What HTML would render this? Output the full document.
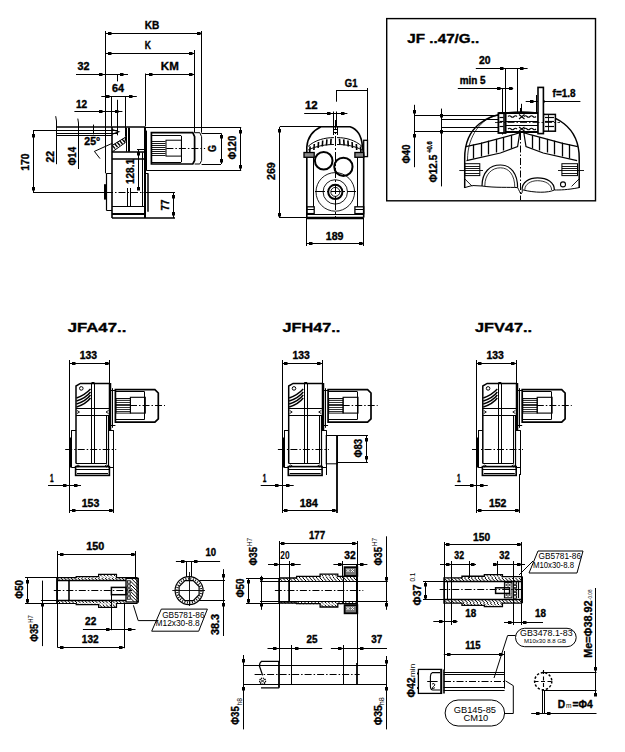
<!DOCTYPE html>
<html><head><meta charset="utf-8"><style>
html,body{margin:0;padding:0;background:#fff;}
svg{display:block;}
text{font-family:"Liberation Sans",sans-serif;fill:#000;stroke:#000;stroke-width:0.35px;}
</style></head><body>
<svg width="625" height="752" viewBox="0 0 625 752">
<rect x="0" y="0" width="625" height="752" fill="#fff"/>
<g stroke="#000" stroke-width="1" fill="none">
<line x1="105.5" y1="31" x2="105.5" y2="173.3"/>
<line x1="201.5" y1="31" x2="201.5" y2="132.7"/>
<line x1="194.5" y1="50" x2="194.5" y2="132.7"/>
<line x1="145.5" y1="73.5" x2="145.5" y2="126.5"/>
<line x1="105.6" y1="33.5" x2="201.5" y2="33.5"/>
<rect x="108" y="32" width="3.5" height="3" fill="#000" stroke="none"/>
<rect x="197" y="32" width="3.5" height="3" fill="#000" stroke="none"/>
<text x="144.8" y="29.2" font-size="11.5" font-weight="bold" textLength="14.6" lengthAdjust="spacingAndGlyphs">KB</text>
<line x1="105.6" y1="53.5" x2="194.8" y2="53.5"/>
<rect x="108" y="52" width="3.5" height="3" fill="#000" stroke="none"/>
<rect x="189" y="52" width="3.5" height="3" fill="#000" stroke="none"/>
<text x="144.8" y="49" font-size="11.5" font-weight="bold" textLength="6.2" lengthAdjust="spacingAndGlyphs">K</text>
<line x1="145.5" y1="74.5" x2="194.8" y2="74.5"/>
<rect x="149" y="73" width="3.5" height="3" fill="#000" stroke="none"/>
<rect x="189" y="73" width="3.5" height="3" fill="#000" stroke="none"/>
<text x="160.8" y="69.8" font-size="11.5" font-weight="bold" textLength="17.95" lengthAdjust="spacingAndGlyphs">KM</text>
<line x1="76" y1="74.5" x2="128" y2="74.5"/>
<rect x="99" y="73" width="3.5" height="3" fill="#000" stroke="none"/>
<rect x="120" y="73" width="3.5" height="3" fill="#000" stroke="none"/>
<line x1="117.5" y1="74.5" x2="117.5" y2="81.4"/>
<text x="77.6" y="69.7" font-size="10" font-weight="bold" textLength="12.0" lengthAdjust="spacingAndGlyphs">32</text>
<line x1="101.3" y1="96.5" x2="136.8" y2="96.5"/>
<rect x="106" y="95" width="3.5" height="3" fill="#000" stroke="none"/>
<rect x="129" y="95" width="3.5" height="3" fill="#000" stroke="none"/>
<text x="112" y="91.5" font-size="10" font-weight="bold" textLength="12" lengthAdjust="spacingAndGlyphs">64</text>
<line x1="111.5" y1="96.6" x2="111.5" y2="126.5"/>
<line x1="125.5" y1="96.6" x2="125.5" y2="136.7"/>
<line x1="117.5" y1="99.8" x2="117.5" y2="135.3"/>
<line x1="74.4" y1="111.5" x2="122.4" y2="111.5"/>
<rect x="99" y="110" width="3.5" height="3" fill="#000" stroke="none"/>
<rect x="115" y="110" width="3.5" height="3" fill="#000" stroke="none"/>
<text x="76" y="107.8" font-size="10" font-weight="bold" textLength="11.2" lengthAdjust="spacingAndGlyphs">12</text>
<line x1="57" y1="127" x2="145" y2="127" stroke-width="1.5"/>
<line x1="145" y1="127.5" x2="241.2" y2="127.5"/>
<line x1="33" y1="130.5" x2="118" y2="130.5"/>
<line x1="57" y1="133.5" x2="118" y2="133.5"/>
<line x1="57" y1="135.5" x2="112" y2="135.5"/>
<path d="M112,129.5 L118.7,131.7 L112,134.3" fill="none" stroke-width="1.2"/>
<line x1="56.5" y1="121" x2="56.5" y2="164.2"/>
<line x1="56.5" y1="121" x2="55.7" y2="116.2"/>
<line x1="78.5" y1="123" x2="78.5" y2="169"/>
<line x1="78.5" y1="123" x2="77.8" y2="118.6"/>
<line x1="93.5" y1="124.6" x2="93.5" y2="134.3"/>
<line x1="33.5" y1="130.5" x2="33.5" y2="192.5"/>
<rect x="32" y="134" width="3" height="3.5" fill="#000" stroke="none"/>
<rect x="32" y="187" width="3" height="3.5" fill="#000" stroke="none"/>
<line x1="33" y1="192.5" x2="106" y2="192.5"/>
<text transform="translate(29,170.8) rotate(-90)" x="0" y="0" font-size="10" font-weight="bold" textLength="17.2" lengthAdjust="spacingAndGlyphs">170</text>
<text transform="translate(53.75,162.5) rotate(-90)" x="0" y="0" font-size="10.5" font-weight="bold" textLength="11.5" lengthAdjust="spacingAndGlyphs">22</text>
<text transform="translate(76,165.6) rotate(-90)" x="0" y="0" font-size="10.5" font-weight="bold" textLength="18.7" lengthAdjust="spacingAndGlyphs">Φ14</text>
<line x1="94.4" y1="151.4" x2="112.5" y2="143.2"/>
<line x1="94.4" y1="151.4" x2="100" y2="158.6"/>
<text x="84.3" y="144.9" font-size="10" font-weight="bold" textLength="15.9" lengthAdjust="spacingAndGlyphs">25°</text>
<line x1="112" y1="127" x2="112" y2="218" stroke-width="1.6"/>
<line x1="126.5" y1="127.7" x2="126.5" y2="151.8"/>
<line x1="128.5" y1="127.7" x2="128.5" y2="151.8"/>
<line x1="129.5" y1="127.7" x2="129.5" y2="151.8"/>
<line x1="112" y1="152" x2="145" y2="152" stroke-width="1.6"/>
<line x1="112" y1="159" x2="145" y2="159" stroke-width="1.6"/>
<line x1="145" y1="127" x2="145" y2="218" stroke-width="2"/>
<line x1="146.5" y1="130.6" x2="146.5" y2="170.2"/>
<path d="M112,145.5 L125.5,137.2 M112,152 L125.5,142.5" fill="none"/>
<path d="M125.5,136.7 Q125.8,140 124.5,142.5" fill="none" stroke-width="1.2"/>
<line x1="112.27" y1="145.36" x2="115.07" y2="148.66" stroke-width="1.4"/>
<line x1="114.73" y1="143.8" x2="117.53" y2="147.1" stroke-width="1.4"/>
<line x1="117.18" y1="142.23" x2="119.98" y2="145.53" stroke-width="1.4"/>
<line x1="119.64" y1="140.67" x2="122.44" y2="143.97" stroke-width="1.4"/>
<line x1="122.09" y1="139.11" x2="124.89" y2="142.41" stroke-width="1.4"/>
<line x1="106.5" y1="173.3" x2="106.5" y2="210.4" stroke-width="1.2"/>
<line x1="105.5" y1="184.2" x2="105.5" y2="199.6" stroke-width="3"/>
<line x1="106.4" y1="173.5" x2="112" y2="173.5"/>
<line x1="145" y1="173.5" x2="148" y2="173.5"/>
<line x1="148" y1="173.3" x2="148" y2="211.7" stroke-width="1.5"/>
<line x1="112" y1="206.5" x2="145" y2="206.5"/>
<line x1="112" y1="214" x2="145" y2="214" stroke-width="2"/>
<line x1="112" y1="218" x2="175" y2="218" stroke-width="1.6"/>
<line x1="106.4" y1="210.5" x2="112" y2="210.5"/>
<line x1="137" y1="149.5" x2="145" y2="149.5"/>
<line x1="138.5" y1="149.1" x2="138.5" y2="189.3"/>
<rect x="137" y="152" width="3" height="3.5" fill="#000" stroke="none"/>
<rect x="137" y="187" width="3" height="3.5" fill="#000" stroke="none"/>
<line x1="142.5" y1="152.4" x2="142.5" y2="206.6"/>
<text transform="translate(133.9,184.1) rotate(-90)" x="0" y="0" font-size="10.5" font-weight="bold" textLength="25.2" lengthAdjust="spacingAndGlyphs">128.1</text>
<line x1="106" y1="192.5" x2="148" y2="192.5" stroke-dasharray="7 2 1.5 2"/>
<line x1="148" y1="192.5" x2="175" y2="192.5"/>
<line x1="127.5" y1="188" x2="127.5" y2="206"/>
<line x1="130.5" y1="188" x2="130.5" y2="206"/>
<line x1="173.5" y1="192.5" x2="173.5" y2="218"/>
<rect x="172" y="195" width="3" height="3.5" fill="#000" stroke="none"/>
<rect x="172" y="212" width="3" height="3.5" fill="#000" stroke="none"/>
<text transform="translate(169.1,210.4) rotate(-90)" x="0" y="0" font-size="10.5" font-weight="bold" textLength="10.8" lengthAdjust="spacingAndGlyphs">77</text>
<line x1="146.2" y1="170.5" x2="241.2" y2="170.5"/>
<line x1="240.5" y1="127" x2="240.5" y2="170.2"/>
<rect x="239" y="130" width="3" height="3.5" fill="#000" stroke="none"/>
<rect x="239" y="165" width="3" height="3.5" fill="#000" stroke="none"/>
<text transform="translate(236.4,159.6) rotate(-90)" x="0" y="0" font-size="10.5" font-weight="bold" textLength="23.8" lengthAdjust="spacingAndGlyphs">Φ120</text>
<path d="M151.4,132.7 L192.8,132.7 L194.6,136.7 L194.6,160.5 L192.8,164 L151.4,164 Z" fill="none" stroke-width="1.7"/>
<path d="M194.6,132.7 L199.8,132.7 L201.6,136.7 L201.6,160.5 L199.8,164 L194.6,164" fill="none"/>
<line x1="151.4" y1="135.5" x2="181" y2="135.5"/>
<line x1="151.4" y1="162.5" x2="181" y2="162.5"/>
<line x1="181.5" y1="135.8" x2="181.5" y2="162.2"/>
<line x1="151.4" y1="141.5" x2="165.5" y2="141.5" stroke-width="0.9"/>
<line x1="151.4" y1="143.5" x2="165.5" y2="143.5" stroke-width="0.9"/>
<line x1="151.4" y1="145.5" x2="165.5" y2="145.5" stroke-width="0.9"/>
<line x1="151.4" y1="147.5" x2="165.5" y2="147.5" stroke-width="0.9"/>
<line x1="151.4" y1="149.5" x2="165.5" y2="149.5" stroke-width="0.9"/>
<line x1="151.4" y1="151.5" x2="165.5" y2="151.5" stroke-width="0.9"/>
<line x1="151.4" y1="153.5" x2="165.5" y2="153.5" stroke-width="0.9"/>
<line x1="151.4" y1="155.5" x2="165.5" y2="155.5" stroke-width="0.9"/>
<rect x="166" y="140.2" width="15.4" height="15.9" fill="none"/>
<line x1="166.4" y1="148.5" x2="205.1" y2="148.5" stroke-dasharray="7 2 1.5 2"/>
<line x1="201.6" y1="133.5" x2="221" y2="133.5"/>
<line x1="201.6" y1="164.5" x2="221" y2="164.5"/>
<line x1="221.5" y1="133.2" x2="221.5" y2="164"/>
<rect x="220" y="135" width="3" height="3.5" fill="#000" stroke="none"/>
<rect x="220" y="159" width="3" height="3.5" fill="#000" stroke="none"/>
<text transform="translate(216,152) rotate(-90)" x="0" y="0" font-size="10.5" font-weight="bold" textLength="7" lengthAdjust="spacingAndGlyphs">G</text>
<line x1="336" y1="90.5" x2="367.5" y2="90.5"/>
<line x1="336.5" y1="90.8" x2="336.5" y2="101.7"/>
<line x1="367.5" y1="88" x2="367.5" y2="140.3"/>
<text x="344.8" y="86.5" font-size="10" font-weight="bold" textLength="12.6" lengthAdjust="spacingAndGlyphs">G1</text>
<line x1="304.2" y1="113.5" x2="347.4" y2="113.5"/>
<rect x="327" y="112" width="3.5" height="3" fill="#000" stroke="none"/>
<rect x="341" y="112" width="3.5" height="3" fill="#000" stroke="none"/>
<line x1="333.5" y1="111.5" x2="333.5" y2="127"/>
<line x1="336.5" y1="111.5" x2="336.5" y2="127"/>
<text x="305" y="108.8" font-size="10" font-weight="bold" textLength="12.7" lengthAdjust="spacingAndGlyphs">12</text>
<line x1="279.5" y1="127" x2="279.5" y2="218"/>
<rect x="278" y="129" width="3" height="3.5" fill="#000" stroke="none"/>
<rect x="278" y="213" width="3" height="3.5" fill="#000" stroke="none"/>
<line x1="279.8" y1="126.5" x2="333" y2="126.5"/>
<line x1="279.8" y1="217.5" x2="306.8" y2="217.5"/>
<text transform="translate(275.3,180) rotate(-90)" x="0" y="0" font-size="10.5" font-weight="bold" textLength="17.7" lengthAdjust="spacingAndGlyphs">269</text>
<line x1="307" y1="243.5" x2="363.7" y2="243.5"/>
<rect x="309" y="242" width="3.5" height="3" fill="#000" stroke="none"/>
<rect x="359" y="242" width="3.5" height="3" fill="#000" stroke="none"/>
<line x1="306.5" y1="217.6" x2="306.5" y2="246"/>
<line x1="363.5" y1="217.6" x2="363.5" y2="246"/>
<text x="325.8" y="240" font-size="10" font-weight="bold" textLength="17.7" lengthAdjust="spacingAndGlyphs">189</text>
<path d="M306.8,217.6 L306.8,147 C307.5,138 312,131 321,126.8 L350,126.8 C357,129 361.5,136 362.4,146 L363.7,156 L363.7,217.6" fill="none" stroke-width="1.6"/>
<rect x="363.7" y="140.3" width="3.8" height="16.3" fill="none" stroke-width="1.3"/>
<line x1="306.8" y1="218" x2="363.7" y2="218" stroke-width="2.5"/>
<line x1="306.8" y1="214.5" x2="363.7" y2="214.5"/>
<path d="M308.1,146.4 C315,140 325,137.6 333.9,137.6 M337,137.6 C346,137.6 355,140 362,146.4" fill="none"/>
<path d="M308.1,150 C316,146 326,144.5 333.9,144.5 M337,144.5 C346,144.5 355,146 362,150" fill="none"/>
<line x1="331.1" y1="138.72" x2="330.70000000000005" y2="144.72" stroke-width="1.6"/>
<line x1="339.5" y1="138.72" x2="339.9" y2="144.72" stroke-width="1.6"/>
<line x1="326.90000000000003" y1="139.38" x2="326.50000000000006" y2="145.38" stroke-width="1.6"/>
<line x1="343.7" y1="139.38" x2="344.09999999999997" y2="145.38" stroke-width="1.6"/>
<line x1="322.7" y1="140.48" x2="322.3" y2="146.48" stroke-width="1.6"/>
<line x1="347.90000000000003" y1="140.48" x2="348.3" y2="146.48" stroke-width="1.6"/>
<line x1="318.5" y1="142.02" x2="318.1" y2="148.02" stroke-width="1.6"/>
<line x1="352.1" y1="142.02" x2="352.5" y2="148.02" stroke-width="1.6"/>
<line x1="314.3" y1="144.0" x2="313.90000000000003" y2="150.0" stroke-width="1.6"/>
<line x1="356.3" y1="144.0" x2="356.7" y2="150.0" stroke-width="1.6"/>
<line x1="310.1" y1="146.42" x2="309.70000000000005" y2="152.42" stroke-width="1.6"/>
<line x1="360.5" y1="146.42" x2="360.9" y2="152.42" stroke-width="1.6"/>
<rect x="304" y="152.5" width="10.2" height="4.8" fill="#888" stroke-width="1.3"/>
<rect x="354.9" y="152.5" width="8.8" height="4.8" fill="#888" stroke-width="1.3"/>
<rect x="306.8" y="206.8" width="7.4" height="6.8" fill="none" stroke-width="1.3"/>
<rect x="354.9" y="206.8" width="8.8" height="6.8" fill="none" stroke-width="1.3"/>
<line x1="307" y1="209.5" x2="314" y2="209.5"/>
<line x1="355" y1="209.5" x2="363.5" y2="209.5"/>
<circle cx="323.7" cy="160.7" r="8.8" fill="none" stroke-width="2.0"/>
<circle cx="343.4" cy="166.8" r="9.15" fill="none" stroke-width="2.0"/>
<circle cx="335.3" cy="191.9" r="19.3" fill="none" stroke-width="0.9"/>
<circle cx="335.3" cy="191.9" r="12.2" fill="none" stroke-width="0.9"/>
<circle cx="335.3" cy="191.9" r="7.1" fill="none" stroke-width="2.0"/>
<circle cx="335.3" cy="191.9" r="4.5" fill="none" stroke-width="0.9"/>
<line x1="335.5" y1="120" x2="335.5" y2="217.6" stroke-dasharray="10 2 2 2"/>
<line x1="315" y1="191.5" x2="356" y2="191.5" stroke-dasharray="10 2 2 2"/>
<line x1="313.5" y1="157.3" x2="313.5" y2="206.8"/>
<line x1="357.5" y1="157.3" x2="357.5" y2="206.8"/>
<line x1="333.5" y1="127" x2="333.5" y2="135"/>
<line x1="337.5" y1="127" x2="337.5" y2="135"/>
<line x1="333.4" y1="129.5" x2="337" y2="129.5"/>
<line x1="333.4" y1="132.5" x2="337" y2="132.5"/>
<rect x="386.7" y="18.6" width="208.8" height="182.2" fill="none" stroke-width="1.4"/>
<text x="407.2" y="43" font-size="12.5" font-weight="bold" textLength="72.0" lengthAdjust="spacingAndGlyphs">JF ..47/G..</text>
<line x1="475.8" y1="68.5" x2="527.6" y2="68.5"/>
<rect x="500" y="67" width="3.5" height="3" fill="#000" stroke="none"/>
<rect x="520" y="67" width="3.5" height="3" fill="#000" stroke="none"/>
<line x1="505.5" y1="68" x2="505.5" y2="114"/>
<line x1="517.5" y1="68" x2="517.5" y2="114"/>
<text x="478.9" y="63.8" font-size="10" font-weight="bold" textLength="11.5" lengthAdjust="spacingAndGlyphs">20</text>
<line x1="457.8" y1="88.5" x2="513.2" y2="88.5"/>
<rect x="497" y="87" width="3.5" height="3" fill="#000" stroke="none"/>
<rect x="509" y="87" width="3.5" height="3" fill="#000" stroke="none"/>
<line x1="502.5" y1="88" x2="502.5" y2="134.5"/>
<text x="459.7" y="83.9" font-size="10" font-weight="bold" textLength="25.9" lengthAdjust="spacingAndGlyphs">min 5</text>
<line x1="525.7" y1="101.5" x2="580.4" y2="101.5"/>
<rect x="530" y="100" width="3.5" height="3" fill="#000" stroke="none"/>
<rect x="541" y="100" width="3.5" height="3" fill="#000" stroke="none"/>
<line x1="536.5" y1="95" x2="536.5" y2="113.4"/>
<text x="552.6" y="96.7" font-size="10" font-weight="bold" textLength="23.0" lengthAdjust="spacingAndGlyphs">f=1.8</text>
<line x1="414.5" y1="104.8" x2="414.5" y2="167.2"/>
<rect x="413" y="110" width="3" height="3.5" fill="#000" stroke="none"/>
<rect x="413" y="134" width="3" height="3.5" fill="#000" stroke="none"/>
<line x1="441.5" y1="108.6" x2="441.5" y2="186.4"/>
<rect x="440" y="114" width="3" height="3.5" fill="#000" stroke="none"/>
<rect x="440" y="130" width="3" height="3.5" fill="#000" stroke="none"/>
<line x1="414.6" y1="115.5" x2="500" y2="115.5"/>
<line x1="441.4" y1="119.5" x2="500" y2="119.5"/>
<line x1="441.4" y1="127.5" x2="500" y2="127.5"/>
<line x1="414.6" y1="131.5" x2="500" y2="131.5"/>
<text transform="translate(410.3,163.4) rotate(-90)" x="0" y="0" font-size="10.5" font-weight="bold" textLength="18.9" lengthAdjust="spacingAndGlyphs">Φ40</text>
<text transform="translate(437.2,182.6) rotate(-90)" x="0" y="0" font-size="10.5" font-weight="bold" textLength="27.9" lengthAdjust="spacingAndGlyphs">Φ12.5</text>
<text transform="translate(431.8,152.8) rotate(-90)" x="0" y="0" font-size="7" font-weight="bold" textLength="11.5" lengthAdjust="spacingAndGlyphs">+0.6</text>
<path d="M464.7,188 L464.7,158 C464.7,128 485,112 521.9,112 C558,112 579.2,128 579.2,158 L579.2,188" fill="none" stroke-width="1.5"/>
<path d="M467.5,160 C467.5,135 482,118 497,115.5" fill="none" stroke-width="0.8"/>
<path d="M464.7,187.6 L472.3,185.5 L482,186 M517.6,187.6 C519,190 520,193 521,194 C523,192 522,190 522.5,189.8 M554.4,190 C560,190 567,190 579.2,187.6" fill="none"/>
<path d="M482,186 C495,188 510,187 517.6,187.6 M522.5,189.8 C535,193 548,193 554.4,190" fill="none"/>
<path d="M464.7,178.8 L472.3,186.4" fill="none" stroke-width="0.9"/>
<path d="M579.2,178.8 L571.6,186.4" fill="none" stroke-width="0.9"/>
<path d="M465.8,146.6 L480.9,143.4 L513.3,134.7 L519.8,132.6 M466.5,160.6 L500.4,153 L517.6,146.6 L519.8,132.6" fill="none" stroke-width="1.2"/>
<path d="M577.8,146.6 L562.7,143.4 L530.3,134.7 L523.8,132.6 M577.1,160.6 L543.2,153 L526,146.6 L523.8,132.6" fill="none" stroke-width="1.2"/>
<line x1="473.5" y1="144.4" x2="473.5" y2="158.5" stroke-width="1.3"/>
<line x1="569.5" y1="144.4" x2="569.5" y2="158.5" stroke-width="1.3"/>
<line x1="481.5" y1="142.6" x2="481.5" y2="156.5" stroke-width="1.3"/>
<line x1="562.5" y1="142.6" x2="562.5" y2="156.5" stroke-width="1.3"/>
<line x1="488.5" y1="140.7" x2="488.5" y2="154.5" stroke-width="1.3"/>
<line x1="554.5" y1="140.7" x2="554.5" y2="154.5" stroke-width="1.3"/>
<line x1="496.5" y1="138.9" x2="496.5" y2="152.5" stroke-width="1.3"/>
<line x1="547.5" y1="138.9" x2="547.5" y2="152.5" stroke-width="1.3"/>
<line x1="503.5" y1="137.1" x2="503.5" y2="150.5" stroke-width="1.3"/>
<line x1="539.5" y1="137.1" x2="539.5" y2="150.5" stroke-width="1.3"/>
<line x1="511.5" y1="135.2" x2="511.5" y2="148.5" stroke-width="1.3"/>
<line x1="532.5" y1="135.2" x2="532.5" y2="148.5" stroke-width="1.3"/>
<path d="M482,186 C482,172 490,165 500.4,165 C511,165 517.6,174 517.6,187.6" fill="none" stroke-width="1.2"/>
<path d="M484.8,186 C484.8,174 492,167.8 500.4,167.8 C509,167.8 514.8,175 514.8,187.6" fill="none" stroke-width="0.8"/>
<path d="M522,189.8 C522,182 529,177.9 537.5,177.9 C547,177.9 554.4,182 554.4,190" fill="none" stroke-width="1.2"/>
<path d="M524.8,189.8 C524.8,184 531,180.7 537.5,180.7 C545,180.7 551.6,184 551.6,190" fill="none" stroke-width="0.8"/>
<rect x="464.7" y="163.7" width="15.1" height="11.9" fill="none"/>
<line x1="464.7" y1="166.5" x2="479.8" y2="166.5" stroke-width="0.9"/>
<line x1="464.7" y1="168.5" x2="479.8" y2="168.5" stroke-width="0.9"/>
<line x1="464.7" y1="173.5" x2="479.8" y2="173.5" stroke-width="0.9"/>
<rect x="561.9" y="163.7" width="15.6" height="11.9" fill="none"/>
<line x1="561.9" y1="166.5" x2="577.5" y2="166.5" stroke-width="0.9"/>
<line x1="561.9" y1="168.5" x2="577.5" y2="168.5" stroke-width="0.9"/>
<line x1="561.9" y1="173.5" x2="577.5" y2="173.5" stroke-width="0.9"/>
<line x1="459.3" y1="170.5" x2="483" y2="170.5" stroke-width="0.9"/>
<line x1="558" y1="170.5" x2="584" y2="170.5" stroke-width="0.9"/>
<circle cx="563" cy="184.4" r="2.5" fill="none" stroke-width="1.1"/>
<line x1="520.5" y1="108" x2="520.5" y2="200" stroke-dasharray="7 2 1.5 2"/>
<rect x="505.6" y="113.2" width="32.4" height="18.6" fill="#fff"/>
<line x1="498.4" y1="113" x2="538" y2="113" stroke-width="2"/>
<line x1="498.4" y1="132" x2="538" y2="132" stroke-width="2"/>
<rect x="498.4" y="113.2" width="7.2" height="19.8" fill="#fff" stroke-width="1.8"/>
<line x1="504" y1="113.2" x2="504" y2="133" stroke-width="1.5"/>
<line x1="499.5" y1="117.5" x2="503.5" y2="117.5" stroke-width="1.2"/>
<line x1="499.5" y1="121.5" x2="503.5" y2="121.5" stroke-width="1.2"/>
<line x1="499.5" y1="126.5" x2="503.5" y2="126.5" stroke-width="1.2"/>
<line x1="505.6" y1="121.5" x2="538" y2="121.5"/>
<line x1="505.6" y1="125.5" x2="538" y2="125.5"/>
<path d="M508,116.5 q1.5,-1.5 3,0 t3,0 t3,0 M524,116.5 q1.5,-1.5 3,0 t3,0 t3,0 t3,0 M508,129 q1.5,-1.5 3,0 t3,0 t3,0 M524,129 q1.5,-1.5 3,0 t3,0 t3,0 t3,0" stroke-width="1.1"/>
<path d="M519,114.5 L524.5,119 M519,119 L524.5,114.5 M519,127 L524.5,131 M519,131 L524.5,127" fill="none" stroke-width="1.1"/>
<rect x="543.4" y="114.4" width="12.0" height="16.8" fill="#fff" stroke-width="1.5"/>
<line x1="545" y1="117.5" x2="554" y2="117.5" stroke-width="1.2"/>
<line x1="545" y1="121.5" x2="554" y2="121.5" stroke-width="1.2"/>
<line x1="545" y1="126.5" x2="554" y2="126.5" stroke-width="1.2"/>
<line x1="548.5" y1="114.4" x2="548.5" y2="131.2" stroke-width="0.9"/>
<rect x="538" y="87.4" width="5.4" height="46.2" fill="#fff" stroke-width="1.6"/>
<line x1="495" y1="122.5" x2="560" y2="122.5" stroke-width="0.8" stroke-dasharray="7 2 1.5 2"/>
<line x1="521.5" y1="103.8" x2="521.5" y2="112"/>
<line x1="69.5" y1="363.5" x2="109.5" y2="363.5"/>
<rect x="72" y="362" width="3.5" height="3" fill="#000" stroke="none"/>
<rect x="105" y="362" width="3.5" height="3" fill="#000" stroke="none"/>
<line x1="69.5" y1="360" x2="69.5" y2="513"/>
<line x1="109.5" y1="360" x2="109.5" y2="383.4"/>
<path d="M76,463.5 L76,386 L80.4,383.4 L110,383.4" fill="none" stroke-width="1.5"/>
<line x1="110" y1="383" x2="110" y2="430" stroke-width="2.5"/>
<line x1="112.5" y1="388.2" x2="112.5" y2="427.8"/>
<line x1="110" y1="390.5" x2="115.4" y2="390.5"/>
<line x1="110" y1="425.5" x2="115.4" y2="425.5"/>
<circle cx="81.3" cy="388.4" r="1.8" fill="none"/>
<path d="M76.5,398 Q85,395 90.5,389 M76.5,401 Q86,398 90.5,392 M76.5,404 Q86,401 90.5,395 M76.5,407 Q86,404 90.5,398" fill="none" stroke-width="1.4"/>
<line x1="91.5" y1="383.4" x2="91.5" y2="463.5"/>
<line x1="94.5" y1="383.4" x2="94.5" y2="463.5"/>
<line x1="91.5" y1="383" x2="94.5" y2="383" stroke-width="2"/>
<line x1="76" y1="408.5" x2="110" y2="408.5"/>
<line x1="76" y1="415.5" x2="110" y2="415.5"/>
<path d="M77,410.5 l2.5,1.5 l-2.5,1.5 M108.5,410.5 l-2.5,1.5 l2.5,1.5" fill="none" stroke-width="0.9"/>
<line x1="71.5" y1="430.2" x2="71.5" y2="467.6"/>
<line x1="71.4" y1="430.5" x2="76" y2="430.5"/>
<line x1="70" y1="437.5" x2="70" y2="467.6" stroke-width="2"/>
<line x1="106.5" y1="415" x2="106.5" y2="463.5"/>
<line x1="108.5" y1="415" x2="108.5" y2="467.6" stroke-width="1.2"/>
<line x1="113.5" y1="430.2" x2="113.5" y2="475"/>
<line x1="108.9" y1="430.5" x2="113.6" y2="430.5"/>
<line x1="76" y1="463.5" x2="106.8" y2="463.5"/>
<rect x="75.6" y="466.6" width="33.8" height="8.8" fill="none" stroke-width="1.6"/>
<line x1="75.6" y1="469.5" x2="109.4" y2="469.5"/>
<line x1="77" y1="473.5" x2="108" y2="473.5"/>
<line x1="71.4" y1="467.5" x2="75.6" y2="467.5"/>
<line x1="109.4" y1="467.5" x2="113.6" y2="467.5"/>
<path d="M76.5,466 q1.5,-2 3,0 q-1.5,2 -3,0 M105,466 q1.5,-2 3,0 q-1.5,2 -3,0" fill="none" stroke-width="0.9"/>
<line x1="65.2" y1="449.5" x2="116.2" y2="449.5" stroke-dasharray="7 2 1.5 2"/>
<path d="M115.4,389.6 L154.9,389.6 L158.3,393 L158.3,418.9 L154.9,422.2 L115.4,422.2 Z" fill="none" stroke-width="1.7"/>
<line x1="115.4" y1="391.5" x2="144.4" y2="391.5"/>
<line x1="115.4" y1="419.5" x2="144.4" y2="419.5"/>
<line x1="144.5" y1="391.5" x2="144.5" y2="419.6"/>
<rect x="116" y="398.7" width="14.4" height="14.4" fill="none" stroke-width="0.9"/>
<line x1="116" y1="398.5" x2="130.4" y2="398.5" stroke-width="0.8"/>
<line x1="116" y1="400.5" x2="130.4" y2="400.5" stroke-width="0.8"/>
<line x1="116" y1="402.5" x2="130.4" y2="402.5" stroke-width="0.8"/>
<line x1="116" y1="404.5" x2="130.4" y2="404.5" stroke-width="0.8"/>
<line x1="116" y1="405.5" x2="130.4" y2="405.5" stroke-width="0.8"/>
<line x1="116" y1="407.5" x2="130.4" y2="407.5" stroke-width="0.8"/>
<line x1="116" y1="409.5" x2="130.4" y2="409.5" stroke-width="0.8"/>
<line x1="116" y1="411.5" x2="130.4" y2="411.5" stroke-width="0.8"/>
<rect x="130.4" y="397.3" width="14.9" height="15.8" fill="none" stroke-width="1.1"/>
<line x1="130" y1="405.5" x2="165" y2="405.5" stroke-dasharray="7 2 1.5 2"/>
<line x1="48" y1="485.5" x2="81" y2="485.5"/>
<rect x="63" y="484" width="3.5" height="3" fill="#000" stroke="none"/>
<rect x="74" y="484" width="3.5" height="3" fill="#000" stroke="none"/>
<text x="50.1" y="481.7" font-size="10" font-weight="bold" textLength="3.6" lengthAdjust="spacingAndGlyphs">1</text>
<text x="79.7" y="358.9" font-size="10" font-weight="bold" textLength="17.3" lengthAdjust="spacingAndGlyphs">133</text>
<text x="67.7" y="332.3" font-size="13.5" font-weight="bold" textLength="58.6" lengthAdjust="spacingAndGlyphs">JFA47..</text>
<line x1="69.5" y1="510.5" x2="113.6" y2="510.5"/>
<rect x="72" y="509" width="3.5" height="3" fill="#000" stroke="none"/>
<rect x="109" y="509" width="3.5" height="3" fill="#000" stroke="none"/>
<line x1="113.5" y1="474" x2="113.5" y2="513"/>
<text x="81.7" y="506.9" font-size="10" font-weight="bold" textLength="17.6" lengthAdjust="spacingAndGlyphs">153</text>
<line x1="282.2" y1="363.5" x2="322.2" y2="363.5"/>
<rect x="284" y="362" width="3.5" height="3" fill="#000" stroke="none"/>
<rect x="317" y="362" width="3.5" height="3" fill="#000" stroke="none"/>
<line x1="282.5" y1="360" x2="282.5" y2="513"/>
<line x1="322.5" y1="360" x2="322.5" y2="383.4"/>
<path d="M288.7,463.5 L288.7,386 L293.1,383.4 L322.7,383.4" fill="none" stroke-width="1.5"/>
<line x1="323" y1="383" x2="323" y2="430" stroke-width="2.5"/>
<line x1="325.5" y1="388.2" x2="325.5" y2="427.8"/>
<line x1="322.7" y1="390.5" x2="328.1" y2="390.5"/>
<line x1="322.7" y1="425.5" x2="328.1" y2="425.5"/>
<circle cx="294.0" cy="388.4" r="1.8" fill="none"/>
<path d="M289.2,398 Q297.7,395 303.2,389 M289.2,401 Q298.7,398 303.2,392 M289.2,404 Q298.7,401 303.2,395 M289.2,407 Q298.7,404 303.2,398" fill="none" stroke-width="1.4"/>
<line x1="304.5" y1="383.4" x2="304.5" y2="463.5"/>
<line x1="307.5" y1="383.4" x2="307.5" y2="463.5"/>
<line x1="304.2" y1="383" x2="307.2" y2="383" stroke-width="2"/>
<line x1="288.7" y1="408.5" x2="322.7" y2="408.5"/>
<line x1="288.7" y1="415.5" x2="322.7" y2="415.5"/>
<path d="M289.7,410.5 l2.5,1.5 l-2.5,1.5 M321.2,410.5 l-2.5,1.5 l2.5,1.5" fill="none" stroke-width="0.9"/>
<line x1="284.5" y1="430.2" x2="284.5" y2="467.6"/>
<line x1="284.1" y1="430.5" x2="288.7" y2="430.5"/>
<line x1="283" y1="437.5" x2="283" y2="467.6" stroke-width="2"/>
<line x1="319.5" y1="415" x2="319.5" y2="463.5"/>
<line x1="321.5" y1="415" x2="321.5" y2="467.6" stroke-width="1.2"/>
<line x1="326.5" y1="430.2" x2="326.5" y2="475"/>
<line x1="321.6" y1="430.5" x2="326.29999999999995" y2="430.5"/>
<line x1="288.7" y1="463.5" x2="319.5" y2="463.5"/>
<rect x="288.29999999999995" y="466.6" width="33.8" height="8.8" fill="none" stroke-width="1.6"/>
<line x1="288.29999999999995" y1="469.5" x2="322.1" y2="469.5"/>
<line x1="289.7" y1="473.5" x2="320.7" y2="473.5"/>
<line x1="284.1" y1="467.5" x2="288.29999999999995" y2="467.5"/>
<line x1="322.1" y1="467.5" x2="326.29999999999995" y2="467.5"/>
<path d="M289.2,466 q1.5,-2 3,0 q-1.5,2 -3,0 M317.7,466 q1.5,-2 3,0 q-1.5,2 -3,0" fill="none" stroke-width="0.9"/>
<line x1="277.9" y1="449.5" x2="328.9" y2="449.5" stroke-dasharray="7 2 1.5 2"/>
<path d="M328.1,389.6 L367.6,389.6 L371.0,393 L371.0,418.9 L367.6,422.2 L328.1,422.2 Z" fill="none" stroke-width="1.7"/>
<line x1="328.1" y1="391.5" x2="357.1" y2="391.5"/>
<line x1="328.1" y1="419.5" x2="357.1" y2="419.5"/>
<line x1="357.5" y1="391.5" x2="357.5" y2="419.6"/>
<rect x="328.7" y="398.7" width="14.4" height="14.4" fill="none" stroke-width="0.9"/>
<line x1="328.7" y1="398.5" x2="343.1" y2="398.5" stroke-width="0.8"/>
<line x1="328.7" y1="400.5" x2="343.1" y2="400.5" stroke-width="0.8"/>
<line x1="328.7" y1="402.5" x2="343.1" y2="402.5" stroke-width="0.8"/>
<line x1="328.7" y1="404.5" x2="343.1" y2="404.5" stroke-width="0.8"/>
<line x1="328.7" y1="405.5" x2="343.1" y2="405.5" stroke-width="0.8"/>
<line x1="328.7" y1="407.5" x2="343.1" y2="407.5" stroke-width="0.8"/>
<line x1="328.7" y1="409.5" x2="343.1" y2="409.5" stroke-width="0.8"/>
<line x1="328.7" y1="411.5" x2="343.1" y2="411.5" stroke-width="0.8"/>
<rect x="343.1" y="397.3" width="14.9" height="15.8" fill="none" stroke-width="1.1"/>
<line x1="342.7" y1="405.5" x2="377.7" y2="405.5" stroke-dasharray="7 2 1.5 2"/>
<line x1="260.7" y1="485.5" x2="293.7" y2="485.5"/>
<rect x="275" y="484" width="3.5" height="3" fill="#000" stroke="none"/>
<rect x="286" y="484" width="3.5" height="3" fill="#000" stroke="none"/>
<text x="262.8" y="481.7" font-size="10" font-weight="bold" textLength="3.6" lengthAdjust="spacingAndGlyphs">1</text>
<text x="292.4" y="358.9" font-size="10" font-weight="bold" textLength="17.3" lengthAdjust="spacingAndGlyphs">133</text>
<text x="282.5" y="332.3" font-size="13.5" font-weight="bold" textLength="57.8" lengthAdjust="spacingAndGlyphs">JFH47..</text>
<rect x="326.2" y="435.5" width="11.2" height="28.3" fill="none"/>
<line x1="337" y1="435.5" x2="337" y2="513" stroke-width="1.8"/>
<line x1="337.4" y1="435.5" x2="368" y2="435.5"/>
<line x1="337.4" y1="462.5" x2="368" y2="462.5"/>
<line x1="366.5" y1="435.5" x2="366.5" y2="462.2"/>
<rect x="365" y="438" width="3" height="3.5" fill="#000" stroke="none"/>
<rect x="365" y="456" width="3" height="3.5" fill="#000" stroke="none"/>
<text transform="translate(362.2,457.4) rotate(-90)" x="0" y="0" font-size="10" font-weight="bold" textLength="18.4" lengthAdjust="spacingAndGlyphs">Φ83</text>
<line x1="282.2" y1="510.5" x2="337.4" y2="510.5"/>
<rect x="284" y="509" width="3.5" height="3" fill="#000" stroke="none"/>
<rect x="332" y="509" width="3.5" height="3" fill="#000" stroke="none"/>
<text x="299.8" y="506.9" font-size="10" font-weight="bold" textLength="18.1" lengthAdjust="spacingAndGlyphs">184</text>
<line x1="476.3" y1="363.5" x2="516.3" y2="363.5"/>
<rect x="478" y="362" width="3.5" height="3" fill="#000" stroke="none"/>
<rect x="511" y="362" width="3.5" height="3" fill="#000" stroke="none"/>
<line x1="476.5" y1="360" x2="476.5" y2="513"/>
<line x1="516.5" y1="360" x2="516.5" y2="383.4"/>
<path d="M482.8,463.5 L482.8,386 L487.20000000000005,383.4 L516.8,383.4" fill="none" stroke-width="1.5"/>
<line x1="517" y1="383" x2="517" y2="430" stroke-width="2.5"/>
<line x1="519.5" y1="388.2" x2="519.5" y2="427.8"/>
<line x1="516.8" y1="390.5" x2="522.2" y2="390.5"/>
<line x1="516.8" y1="425.5" x2="522.2" y2="425.5"/>
<circle cx="488.1" cy="388.4" r="1.8" fill="none"/>
<path d="M483.3,398 Q491.8,395 497.3,389 M483.3,401 Q492.8,398 497.3,392 M483.3,404 Q492.8,401 497.3,395 M483.3,407 Q492.8,404 497.3,398" fill="none" stroke-width="1.4"/>
<line x1="498.5" y1="383.4" x2="498.5" y2="463.5"/>
<line x1="501.5" y1="383.4" x2="501.5" y2="463.5"/>
<line x1="498.3" y1="383" x2="501.3" y2="383" stroke-width="2"/>
<line x1="482.8" y1="408.5" x2="516.8" y2="408.5"/>
<line x1="482.8" y1="415.5" x2="516.8" y2="415.5"/>
<path d="M483.8,410.5 l2.5,1.5 l-2.5,1.5 M515.3,410.5 l-2.5,1.5 l2.5,1.5" fill="none" stroke-width="0.9"/>
<line x1="478.5" y1="430.2" x2="478.5" y2="467.6"/>
<line x1="478.20000000000005" y1="430.5" x2="482.8" y2="430.5"/>
<line x1="477" y1="437.5" x2="477" y2="467.6" stroke-width="2"/>
<line x1="513.5" y1="415" x2="513.5" y2="463.5"/>
<line x1="515.5" y1="415" x2="515.5" y2="467.6" stroke-width="1.2"/>
<line x1="520.5" y1="430.2" x2="520.5" y2="475"/>
<line x1="515.7" y1="430.5" x2="520.4" y2="430.5"/>
<line x1="482.8" y1="463.5" x2="513.6" y2="463.5"/>
<rect x="482.4" y="466.6" width="33.8" height="8.8" fill="none" stroke-width="1.6"/>
<line x1="482.4" y1="469.5" x2="516.2" y2="469.5"/>
<line x1="483.8" y1="473.5" x2="514.8" y2="473.5"/>
<line x1="478.20000000000005" y1="467.5" x2="482.4" y2="467.5"/>
<line x1="516.2" y1="467.5" x2="520.4" y2="467.5"/>
<path d="M483.3,466 q1.5,-2 3,0 q-1.5,2 -3,0 M511.8,466 q1.5,-2 3,0 q-1.5,2 -3,0" fill="none" stroke-width="0.9"/>
<line x1="472.0" y1="449.5" x2="523.0" y2="449.5" stroke-dasharray="7 2 1.5 2"/>
<path d="M522.2,389.6 L561.7,389.6 L565.1,393 L565.1,418.9 L561.7,422.2 L522.2,422.2 Z" fill="none" stroke-width="1.7"/>
<line x1="522.2" y1="391.5" x2="551.2" y2="391.5"/>
<line x1="522.2" y1="419.5" x2="551.2" y2="419.5"/>
<line x1="551.5" y1="391.5" x2="551.5" y2="419.6"/>
<rect x="522.8" y="398.7" width="14.4" height="14.4" fill="none" stroke-width="0.9"/>
<line x1="522.8" y1="398.5" x2="537.2" y2="398.5" stroke-width="0.8"/>
<line x1="522.8" y1="400.5" x2="537.2" y2="400.5" stroke-width="0.8"/>
<line x1="522.8" y1="402.5" x2="537.2" y2="402.5" stroke-width="0.8"/>
<line x1="522.8" y1="404.5" x2="537.2" y2="404.5" stroke-width="0.8"/>
<line x1="522.8" y1="405.5" x2="537.2" y2="405.5" stroke-width="0.8"/>
<line x1="522.8" y1="407.5" x2="537.2" y2="407.5" stroke-width="0.8"/>
<line x1="522.8" y1="409.5" x2="537.2" y2="409.5" stroke-width="0.8"/>
<line x1="522.8" y1="411.5" x2="537.2" y2="411.5" stroke-width="0.8"/>
<rect x="537.2" y="397.3" width="14.9" height="15.8" fill="none" stroke-width="1.1"/>
<line x1="536.8" y1="405.5" x2="571.8" y2="405.5" stroke-dasharray="7 2 1.5 2"/>
<line x1="454.8" y1="485.5" x2="487.8" y2="485.5"/>
<rect x="470" y="484" width="3.5" height="3" fill="#000" stroke="none"/>
<rect x="480" y="484" width="3.5" height="3" fill="#000" stroke="none"/>
<text x="456.90000000000003" y="481.7" font-size="10" font-weight="bold" textLength="3.6" lengthAdjust="spacingAndGlyphs">1</text>
<text x="486.5" y="358.9" font-size="10" font-weight="bold" textLength="17.3" lengthAdjust="spacingAndGlyphs">133</text>
<text x="474.9" y="332.3" font-size="13.5" font-weight="bold" textLength="57.2" lengthAdjust="spacingAndGlyphs">JFV47..</text>
<line x1="476.3" y1="510.5" x2="519.5" y2="510.5"/>
<rect x="478" y="509" width="3.5" height="3" fill="#000" stroke="none"/>
<rect x="515" y="509" width="3.5" height="3" fill="#000" stroke="none"/>
<line x1="519.5" y1="474" x2="519.5" y2="513"/>
<text x="488.9" y="506.9" font-size="10" font-weight="bold" textLength="17.5" lengthAdjust="spacingAndGlyphs">152</text>
<line x1="57.6" y1="554.5" x2="135.5" y2="554.5"/>
<rect x="60" y="553" width="3.5" height="3" fill="#000" stroke="none"/>
<rect x="131" y="553" width="3.5" height="3" fill="#000" stroke="none"/>
<text x="86.2" y="549.7" font-size="10" font-weight="bold" textLength="18.0" lengthAdjust="spacingAndGlyphs">150</text>
<line x1="57.5" y1="551" x2="57.5" y2="647.6"/>
<line x1="135.5" y1="551" x2="135.5" y2="577.7"/>
<clipPath id="h454"><rect x="57.1" y="577.7" width="68.3" height="3.3"/></clipPath><g clip-path="url(#h454)">
<line x1="53.8" y1="577.7" x2="57.1" y2="581"/>
<line x1="57.2" y1="577.7" x2="60.5" y2="581"/>
<line x1="60.6" y1="577.7" x2="63.9" y2="581"/>
<line x1="64.0" y1="577.7" x2="67.3" y2="581"/>
<line x1="67.4" y1="577.7" x2="70.7" y2="581"/>
<line x1="70.8" y1="577.7" x2="74.1" y2="581"/>
<line x1="74.2" y1="577.7" x2="77.5" y2="581"/>
<line x1="77.6" y1="577.7" x2="80.9" y2="581"/>
<line x1="81.0" y1="577.7" x2="84.3" y2="581"/>
<line x1="84.4" y1="577.7" x2="87.7" y2="581"/>
<line x1="87.8" y1="577.7" x2="91.1" y2="581"/>
<line x1="91.2" y1="577.7" x2="94.5" y2="581"/>
<line x1="94.6" y1="577.7" x2="97.9" y2="581"/>
<line x1="98.0" y1="577.7" x2="101.3" y2="581"/>
<line x1="101.4" y1="577.7" x2="104.7" y2="581"/>
<line x1="104.8" y1="577.7" x2="108.1" y2="581"/>
<line x1="108.2" y1="577.7" x2="111.5" y2="581"/>
<line x1="111.6" y1="577.7" x2="114.9" y2="581"/>
<line x1="115.0" y1="577.7" x2="118.3" y2="581"/>
<line x1="118.4" y1="577.7" x2="121.7" y2="581"/>
<line x1="121.8" y1="577.7" x2="125.1" y2="581"/>
<line x1="125.2" y1="577.7" x2="128.5" y2="581"/>
</g>
<clipPath id="h478"><rect x="57.1" y="600" width="68.3" height="3.5"/></clipPath><g clip-path="url(#h478)">
<line x1="53.6" y1="600" x2="57.1" y2="603.5"/>
<line x1="57.0" y1="600" x2="60.5" y2="603.5"/>
<line x1="60.4" y1="600" x2="63.9" y2="603.5"/>
<line x1="63.8" y1="600" x2="67.3" y2="603.5"/>
<line x1="67.2" y1="600" x2="70.7" y2="603.5"/>
<line x1="70.6" y1="600" x2="74.1" y2="603.5"/>
<line x1="74.0" y1="600" x2="77.5" y2="603.5"/>
<line x1="77.4" y1="600" x2="80.9" y2="603.5"/>
<line x1="80.8" y1="600" x2="84.3" y2="603.5"/>
<line x1="84.2" y1="600" x2="87.7" y2="603.5"/>
<line x1="87.6" y1="600" x2="91.1" y2="603.5"/>
<line x1="91.0" y1="600" x2="94.5" y2="603.5"/>
<line x1="94.4" y1="600" x2="97.9" y2="603.5"/>
<line x1="97.8" y1="600" x2="101.3" y2="603.5"/>
<line x1="101.2" y1="600" x2="104.7" y2="603.5"/>
<line x1="104.6" y1="600" x2="108.1" y2="603.5"/>
<line x1="108.0" y1="600" x2="111.5" y2="603.5"/>
<line x1="111.4" y1="600" x2="114.9" y2="603.5"/>
<line x1="114.8" y1="600" x2="118.3" y2="603.5"/>
<line x1="118.2" y1="600" x2="121.7" y2="603.5"/>
<line x1="121.6" y1="600" x2="125.1" y2="603.5"/>
<line x1="125.0" y1="600" x2="128.5" y2="603.5"/>
</g>
<clipPath id="h502"><rect x="76.2" y="576.6" width="40.3" height="1.1"/></clipPath><g clip-path="url(#h502)">
<line x1="75.1" y1="576.6" x2="76.2" y2="577.7"/>
<line x1="78.5" y1="576.6" x2="79.6" y2="577.7"/>
<line x1="81.9" y1="576.6" x2="83.0" y2="577.7"/>
<line x1="85.3" y1="576.6" x2="86.4" y2="577.7"/>
<line x1="88.7" y1="576.6" x2="89.8" y2="577.7"/>
<line x1="92.1" y1="576.6" x2="93.2" y2="577.7"/>
<line x1="95.5" y1="576.6" x2="96.6" y2="577.7"/>
<line x1="98.9" y1="576.6" x2="100.0" y2="577.7"/>
<line x1="102.3" y1="576.6" x2="103.4" y2="577.7"/>
<line x1="105.7" y1="576.6" x2="106.8" y2="577.7"/>
<line x1="109.1" y1="576.6" x2="110.2" y2="577.7"/>
<line x1="112.5" y1="576.6" x2="113.6" y2="577.7"/>
<line x1="115.9" y1="576.6" x2="117.0" y2="577.7"/>
</g>
<clipPath id="h517"><rect x="98.6" y="574.4" width="17.9" height="2.2"/></clipPath><g clip-path="url(#h517)">
<line x1="96.4" y1="574.4" x2="98.6" y2="576.6"/>
<line x1="99.8" y1="574.4" x2="102.0" y2="576.6"/>
<line x1="103.2" y1="574.4" x2="105.4" y2="576.6"/>
<line x1="106.6" y1="574.4" x2="108.8" y2="576.6"/>
<line x1="110.0" y1="574.4" x2="112.2" y2="576.6"/>
<line x1="113.4" y1="574.4" x2="115.6" y2="576.6"/>
</g>
<clipPath id="h525"><rect x="76.2" y="603.5" width="40.3" height="1.1"/></clipPath><g clip-path="url(#h525)">
<line x1="75.1" y1="603.5" x2="76.2" y2="604.6"/>
<line x1="78.5" y1="603.5" x2="79.6" y2="604.6"/>
<line x1="81.9" y1="603.5" x2="83.0" y2="604.6"/>
<line x1="85.3" y1="603.5" x2="86.4" y2="604.6"/>
<line x1="88.7" y1="603.5" x2="89.8" y2="604.6"/>
<line x1="92.1" y1="603.5" x2="93.2" y2="604.6"/>
<line x1="95.5" y1="603.5" x2="96.6" y2="604.6"/>
<line x1="98.9" y1="603.5" x2="100.0" y2="604.6"/>
<line x1="102.3" y1="603.5" x2="103.4" y2="604.6"/>
<line x1="105.7" y1="603.5" x2="106.8" y2="604.6"/>
<line x1="109.1" y1="603.5" x2="110.2" y2="604.6"/>
<line x1="112.5" y1="603.5" x2="113.6" y2="604.6"/>
<line x1="115.9" y1="603.5" x2="117.0" y2="604.6"/>
</g>
<clipPath id="h540"><rect x="98.6" y="604.6" width="17.9" height="2.7"/></clipPath><g clip-path="url(#h540)">
<line x1="95.9" y1="604.6" x2="98.6" y2="607.3"/>
<line x1="99.3" y1="604.6" x2="102.0" y2="607.3"/>
<line x1="102.7" y1="604.6" x2="105.4" y2="607.3"/>
<line x1="106.1" y1="604.6" x2="108.8" y2="607.3"/>
<line x1="109.5" y1="604.6" x2="112.2" y2="607.3"/>
<line x1="112.9" y1="604.6" x2="115.6" y2="607.3"/>
<line x1="116.3" y1="604.6" x2="119.0" y2="607.3"/>
</g>
<path d="M57.1,577.7 L76.2,577.7 L76.2,576.6 L98.6,576.6 L98.6,574.4 L116.5,574.4 L116.5,577.7 L137,577.7 L137,603.5 L116.5,603.5 L116.5,607.3 L98.6,607.3 L98.6,604.6 L76.2,604.6 L76.2,603.5 L57.1,603.5 Z" fill="none" stroke-width="1.2"/>
<line x1="57.1" y1="580.5" x2="126" y2="580.5" stroke-width="1.4"/>
<line x1="57.1" y1="600.5" x2="126" y2="600.5" stroke-width="1.4"/>
<line x1="57" y1="577.7" x2="57" y2="603.5" stroke-width="1.6"/>
<line x1="69" y1="581" x2="69" y2="600" stroke-width="1.6"/>
<clipPath id="h554"><rect x="131" y="578.4" width="7.3" height="23.6"/></clipPath><g clip-path="url(#h554)">
<line x1="107.4" y1="578.4" x2="131.0" y2="602"/>
<line x1="110.8" y1="578.4" x2="134.4" y2="602"/>
<line x1="114.2" y1="578.4" x2="137.8" y2="602"/>
<line x1="117.6" y1="578.4" x2="141.2" y2="602"/>
<line x1="121.0" y1="578.4" x2="144.6" y2="602"/>
<line x1="124.4" y1="578.4" x2="148.0" y2="602"/>
<line x1="127.8" y1="578.4" x2="151.4" y2="602"/>
<line x1="131.2" y1="578.4" x2="154.8" y2="602"/>
<line x1="134.6" y1="578.4" x2="158.2" y2="602"/>
<line x1="138.0" y1="578.4" x2="161.6" y2="602"/>
</g>
<rect x="126" y="578.4" width="12.3" height="23.6" fill="none" stroke-width="1.3"/>
<rect x="127.3" y="580.8" width="3.0" height="2.4" fill="none" stroke-width="0.9"/>
<rect x="127.3" y="584.8" width="3.0" height="2.4" fill="none" stroke-width="0.9"/>
<rect x="127.3" y="588.8" width="3.0" height="2.4" fill="none" stroke-width="0.9"/>
<rect x="127.3" y="592.8" width="3.0" height="2.4" fill="none" stroke-width="0.9"/>
<rect x="127.3" y="596.8" width="3.0" height="2.4" fill="none" stroke-width="0.9"/>
<line x1="53.8" y1="590.5" x2="132" y2="590.5" stroke-dasharray="7 2 1.5 2"/>
<rect x="111.4" y="587.4" width="14.6" height="7.3" fill="none" stroke-width="1.5"/>
<line x1="27.5" y1="577.7" x2="27.5" y2="603.5"/>
<rect x="26" y="580" width="3" height="3.5" fill="#000" stroke="none"/>
<rect x="26" y="599" width="3" height="3.5" fill="#000" stroke="none"/>
<line x1="25" y1="577.5" x2="57" y2="577.5"/>
<line x1="25" y1="603.5" x2="57" y2="603.5"/>
<text transform="translate(23.2,598.7) rotate(-90)" x="0" y="0" font-size="10" font-weight="bold" textLength="18.6" lengthAdjust="spacingAndGlyphs">Φ50</text>
<line x1="42.5" y1="580.6" x2="42.5" y2="646.1"/>
<rect x="41" y="603" width="3" height="3.5" fill="#000" stroke="none"/>
<line x1="40.9" y1="600.5" x2="57" y2="600.5"/>
<text transform="translate(37.9,641.8) rotate(-90)" x="0" y="0" font-size="10" font-weight="bold" textLength="18.1" lengthAdjust="spacingAndGlyphs">Φ35</text>
<text style="stroke:none" transform="translate(32.7,622.7) rotate(-90)" x="0" y="0" font-size="7" font-weight="normal" textLength="7.5" lengthAdjust="spacingAndGlyphs">H7</text>
<line x1="82.9" y1="629.5" x2="135.5" y2="629.5"/>
<rect x="106" y="628" width="3.5" height="3" fill="#000" stroke="none"/>
<rect x="128" y="628" width="3.5" height="3" fill="#000" stroke="none"/>
<line x1="111.5" y1="594.7" x2="111.5" y2="630.2"/>
<text x="85.1" y="625.2" font-size="10" font-weight="bold" textLength="11.2" lengthAdjust="spacingAndGlyphs">22</text>
<line x1="57.6" y1="647.5" x2="124.7" y2="647.5"/>
<rect x="60" y="646" width="3.5" height="3" fill="#000" stroke="none"/>
<rect x="119" y="646" width="3.5" height="3" fill="#000" stroke="none"/>
<line x1="124.5" y1="603.5" x2="124.5" y2="648.2"/>
<text x="81.8" y="642.7" font-size="10" font-weight="bold" textLength="16.8" lengthAdjust="spacingAndGlyphs">132</text>
<circle cx="189.1" cy="590.6" r="12" fill="none" stroke-width="2.2" stroke-dasharray="0.9 1.6"/>
<circle cx="189.1" cy="590.6" r="14" fill="none" stroke-width="1.2"/>
<polygon points="185,580.6 193.2,580.6 199.1,586.5 199.1,594.7 193.2,600.6 185,600.6 179.1,594.7 179.1,586.5" fill="none" stroke-width="1.2"/>
<line x1="172.3" y1="590.5" x2="205" y2="590.5" stroke-width="0.9"/>
<line x1="189.5" y1="572" x2="189.5" y2="606" stroke-width="0.9"/>
<line x1="175.9" y1="561.5" x2="220.1" y2="561.5"/>
<rect x="181" y="560" width="3.5" height="3" fill="#000" stroke="none"/>
<rect x="194" y="560" width="3.5" height="3" fill="#000" stroke="none"/>
<line x1="186.5" y1="561" x2="186.5" y2="577"/>
<line x1="191.5" y1="561" x2="191.5" y2="577"/>
<text x="205.4" y="556.3" font-size="10" font-weight="bold" textLength="10.6" lengthAdjust="spacingAndGlyphs">10</text>
<line x1="223.5" y1="569.2" x2="223.5" y2="636"/>
<rect x="222" y="574" width="3" height="3.5" fill="#000" stroke="none"/>
<rect x="222" y="603" width="3" height="3.5" fill="#000" stroke="none"/>
<line x1="199.3" y1="580.5" x2="225" y2="580.5"/>
<line x1="199.3" y1="600.5" x2="225" y2="600.5"/>
<text transform="translate(218.9,635) rotate(-90)" x="0" y="0" font-size="10.5" font-weight="bold" textLength="21.1" lengthAdjust="spacingAndGlyphs">38.3</text>
<polygon points="161.3,609.1 207.4,609.1 198.7,631.2 151.7,631.2" fill="none"/>
<text x="162.2" y="617.8" font-size="8.5" font-weight="normal" textLength="42.3" lengthAdjust="spacingAndGlyphs" style="stroke:none">GB5781-86</text>
<text x="155.5" y="626.4" font-size="8.5" font-weight="normal" textLength="44.2" lengthAdjust="spacingAndGlyphs" style="stroke:none">M12x30-8.8</text>
<polyline points="133.4,605.3 138.2,620.6 158.4,620.6" fill="none"/>
<line x1="279" y1="543.5" x2="357.3" y2="543.5"/>
<rect x="281" y="542" width="3.5" height="3" fill="#000" stroke="none"/>
<rect x="352" y="542" width="3.5" height="3" fill="#000" stroke="none"/>
<text x="308.9" y="538.5" font-size="10" font-weight="bold" textLength="16.3" lengthAdjust="spacingAndGlyphs">177</text>
<line x1="279.5" y1="541" x2="279.5" y2="663"/>
<line x1="357.5" y1="541" x2="357.5" y2="664.6"/>
<line x1="268" y1="564.5" x2="300.7" y2="564.5"/>
<rect x="274" y="563" width="3.5" height="3" fill="#000" stroke="none"/>
<rect x="291" y="563" width="3.5" height="3" fill="#000" stroke="none"/>
<text x="280.3" y="559.4" font-size="10.5" font-weight="bold" textLength="9.3" lengthAdjust="spacingAndGlyphs" style="stroke:none">20</text>
<line x1="289.5" y1="561" x2="289.5" y2="601.6"/>
<line x1="333.4" y1="564.5" x2="367.4" y2="564.5"/>
<rect x="338" y="563" width="3.5" height="3" fill="#000" stroke="none"/>
<rect x="360" y="563" width="3.5" height="3" fill="#000" stroke="none"/>
<text x="344.3" y="559.4" font-size="10" font-weight="bold" textLength="11.4" lengthAdjust="spacingAndGlyphs">32</text>
<line x1="342.5" y1="561" x2="342.5" y2="578"/>
<clipPath id="h632"><rect x="279" y="578" width="78.3" height="3.2"/></clipPath><g clip-path="url(#h632)">
<line x1="275.8" y1="578" x2="279.0" y2="581.2"/>
<line x1="279.2" y1="578" x2="282.4" y2="581.2"/>
<line x1="282.6" y1="578" x2="285.8" y2="581.2"/>
<line x1="286.0" y1="578" x2="289.2" y2="581.2"/>
<line x1="289.4" y1="578" x2="292.6" y2="581.2"/>
<line x1="292.8" y1="578" x2="296.0" y2="581.2"/>
<line x1="296.2" y1="578" x2="299.4" y2="581.2"/>
<line x1="299.6" y1="578" x2="302.8" y2="581.2"/>
<line x1="303.0" y1="578" x2="306.2" y2="581.2"/>
<line x1="306.4" y1="578" x2="309.6" y2="581.2"/>
<line x1="309.8" y1="578" x2="313.0" y2="581.2"/>
<line x1="313.2" y1="578" x2="316.4" y2="581.2"/>
<line x1="316.6" y1="578" x2="319.8" y2="581.2"/>
<line x1="320.0" y1="578" x2="323.2" y2="581.2"/>
<line x1="323.4" y1="578" x2="326.6" y2="581.2"/>
<line x1="326.8" y1="578" x2="330.0" y2="581.2"/>
<line x1="330.2" y1="578" x2="333.4" y2="581.2"/>
<line x1="333.6" y1="578" x2="336.8" y2="581.2"/>
<line x1="337.0" y1="578" x2="340.2" y2="581.2"/>
<line x1="340.4" y1="578" x2="343.6" y2="581.2"/>
<line x1="343.8" y1="578" x2="347.0" y2="581.2"/>
<line x1="347.2" y1="578" x2="350.4" y2="581.2"/>
<line x1="350.6" y1="578" x2="353.8" y2="581.2"/>
<line x1="354.0" y1="578" x2="357.2" y2="581.2"/>
</g>
<clipPath id="h658"><rect x="279" y="601.1" width="78.3" height="2.6"/></clipPath><g clip-path="url(#h658)">
<line x1="276.4" y1="601.1" x2="279.0" y2="603.7"/>
<line x1="279.8" y1="601.1" x2="282.4" y2="603.7"/>
<line x1="283.2" y1="601.1" x2="285.8" y2="603.7"/>
<line x1="286.6" y1="601.1" x2="289.2" y2="603.7"/>
<line x1="290.0" y1="601.1" x2="292.6" y2="603.7"/>
<line x1="293.4" y1="601.1" x2="296.0" y2="603.7"/>
<line x1="296.8" y1="601.1" x2="299.4" y2="603.7"/>
<line x1="300.2" y1="601.1" x2="302.8" y2="603.7"/>
<line x1="303.6" y1="601.1" x2="306.2" y2="603.7"/>
<line x1="307.0" y1="601.1" x2="309.6" y2="603.7"/>
<line x1="310.4" y1="601.1" x2="313.0" y2="603.7"/>
<line x1="313.8" y1="601.1" x2="316.4" y2="603.7"/>
<line x1="317.2" y1="601.1" x2="319.8" y2="603.7"/>
<line x1="320.6" y1="601.1" x2="323.2" y2="603.7"/>
<line x1="324.0" y1="601.1" x2="326.6" y2="603.7"/>
<line x1="327.4" y1="601.1" x2="330.0" y2="603.7"/>
<line x1="330.8" y1="601.1" x2="333.4" y2="603.7"/>
<line x1="334.2" y1="601.1" x2="336.8" y2="603.7"/>
<line x1="337.6" y1="601.1" x2="340.2" y2="603.7"/>
<line x1="341.0" y1="601.1" x2="343.6" y2="603.7"/>
<line x1="344.4" y1="601.1" x2="347.0" y2="603.7"/>
<line x1="347.8" y1="601.1" x2="350.4" y2="603.7"/>
<line x1="351.2" y1="601.1" x2="353.8" y2="603.7"/>
<line x1="354.6" y1="601.1" x2="357.2" y2="603.7"/>
</g>
<clipPath id="h684"><rect x="296.6" y="576.6" width="60.7" height="1.4"/></clipPath><g clip-path="url(#h684)">
<line x1="295.2" y1="576.6" x2="296.6" y2="578"/>
<line x1="298.6" y1="576.6" x2="300.0" y2="578"/>
<line x1="302.0" y1="576.6" x2="303.4" y2="578"/>
<line x1="305.4" y1="576.6" x2="306.8" y2="578"/>
<line x1="308.8" y1="576.6" x2="310.2" y2="578"/>
<line x1="312.2" y1="576.6" x2="313.6" y2="578"/>
<line x1="315.6" y1="576.6" x2="317.0" y2="578"/>
<line x1="319.0" y1="576.6" x2="320.4" y2="578"/>
<line x1="322.4" y1="576.6" x2="323.8" y2="578"/>
<line x1="325.8" y1="576.6" x2="327.2" y2="578"/>
<line x1="329.2" y1="576.6" x2="330.6" y2="578"/>
<line x1="332.6" y1="576.6" x2="334.0" y2="578"/>
<line x1="336.0" y1="576.6" x2="337.4" y2="578"/>
<line x1="339.4" y1="576.6" x2="340.8" y2="578"/>
<line x1="342.8" y1="576.6" x2="344.2" y2="578"/>
<line x1="346.2" y1="576.6" x2="347.6" y2="578"/>
<line x1="349.6" y1="576.6" x2="351.0" y2="578"/>
<line x1="353.0" y1="576.6" x2="354.4" y2="578"/>
<line x1="356.4" y1="576.6" x2="357.8" y2="578"/>
</g>
<clipPath id="h705"><rect x="320.1" y="574.2" width="17.7" height="2.4"/></clipPath><g clip-path="url(#h705)">
<line x1="317.7" y1="574.2" x2="320.1" y2="576.6"/>
<line x1="321.1" y1="574.2" x2="323.5" y2="576.6"/>
<line x1="324.5" y1="574.2" x2="326.9" y2="576.6"/>
<line x1="327.9" y1="574.2" x2="330.3" y2="576.6"/>
<line x1="331.3" y1="574.2" x2="333.7" y2="576.6"/>
<line x1="334.7" y1="574.2" x2="337.1" y2="576.6"/>
</g>
<clipPath id="h713"><rect x="296.6" y="603.7" width="46.3" height="0.8"/></clipPath><g clip-path="url(#h713)">
<line x1="295.8" y1="603.7" x2="296.6" y2="604.5"/>
<line x1="299.2" y1="603.7" x2="300.0" y2="604.5"/>
<line x1="302.6" y1="603.7" x2="303.4" y2="604.5"/>
<line x1="306.0" y1="603.7" x2="306.8" y2="604.5"/>
<line x1="309.4" y1="603.7" x2="310.2" y2="604.5"/>
<line x1="312.8" y1="603.7" x2="313.6" y2="604.5"/>
<line x1="316.2" y1="603.7" x2="317.0" y2="604.5"/>
<line x1="319.6" y1="603.7" x2="320.4" y2="604.5"/>
<line x1="323.0" y1="603.7" x2="323.8" y2="604.5"/>
<line x1="326.4" y1="603.7" x2="327.2" y2="604.5"/>
<line x1="329.8" y1="603.7" x2="330.6" y2="604.5"/>
<line x1="333.2" y1="603.7" x2="334.0" y2="604.5"/>
<line x1="336.6" y1="603.7" x2="337.4" y2="604.5"/>
<line x1="340.0" y1="603.7" x2="340.8" y2="604.5"/>
</g>
<clipPath id="h729"><rect x="320.1" y="604.5" width="17.7" height="2.5"/></clipPath><g clip-path="url(#h729)">
<line x1="317.6" y1="604.5" x2="320.1" y2="607"/>
<line x1="321.0" y1="604.5" x2="323.5" y2="607"/>
<line x1="324.4" y1="604.5" x2="326.9" y2="607"/>
<line x1="327.8" y1="604.5" x2="330.3" y2="607"/>
<line x1="331.2" y1="604.5" x2="333.7" y2="607"/>
<line x1="334.6" y1="604.5" x2="337.1" y2="607"/>
</g>
<path d="M279,578 L296.6,578 L296.6,576.4 L320.1,576.4 L320.1,574.2 L337.8,574.2 L337.8,576.4 L357.3,576.4 M357.3,603.7 L337.8,603.7 L337.8,607 L320.1,607 L320.1,603.7 L296.6,603.7 L296.6,603 L279,603" fill="none" stroke-width="1.3"/>
<rect x="344.6" y="567.2" width="12.7" height="8.8" fill="#777" stroke-width="1.8"/>
<rect x="344.6" y="605.1" width="12.7" height="8.2" fill="#777" stroke-width="1.8"/>
<path d="M346.5,569 l3,3 m0,-3 l-3,3 M351,569 l3,3 m0,-3 l-3,3 M346.5,607 l3,3 m0,-3 l-3,3 M351,607 l3,3 m0,-3 l-3,3" stroke="#fff" stroke-width="0.9"/>
<line x1="357" y1="564" x2="357" y2="614" stroke-width="2"/>
<line x1="260" y1="581.5" x2="387.8" y2="581.5"/>
<line x1="260" y1="601.5" x2="387.8" y2="601.5"/>
<line x1="279" y1="578" x2="279" y2="603" stroke-width="1.5"/>
<line x1="289" y1="581" x2="289" y2="601" stroke-width="1.5"/>
<line x1="343.5" y1="578" x2="343.5" y2="603"/>
<line x1="274.9" y1="590.5" x2="363.3" y2="590.5" stroke-dasharray="7 2 1.5 2"/>
<line x1="248.5" y1="578" x2="248.5" y2="603"/>
<rect x="247" y="580" width="3" height="3.5" fill="#000" stroke="none"/>
<rect x="247" y="599" width="3" height="3.5" fill="#000" stroke="none"/>
<line x1="246" y1="578.5" x2="279" y2="578.5"/>
<line x1="246" y1="603.5" x2="279" y2="603.5"/>
<text transform="translate(243.6,597.5) rotate(-90)" x="0" y="0" font-size="10.5" font-weight="bold" textLength="19.0" lengthAdjust="spacingAndGlyphs">Φ50</text>
<line x1="261.5" y1="575.8" x2="261.5" y2="609.8"/>
<rect x="260" y="577" width="3" height="3.5" fill="#000" stroke="none"/>
<rect x="260" y="603" width="3" height="3.5" fill="#000" stroke="none"/>
<text transform="translate(257,565.6) rotate(-90)" x="0" y="0" font-size="10" font-weight="bold" textLength="18.6" lengthAdjust="spacingAndGlyphs">Φ35</text>
<text style="stroke:none" transform="translate(251.8,546) rotate(-90)" x="0" y="0" font-size="7" font-weight="normal" textLength="8" lengthAdjust="spacingAndGlyphs">H7</text>
<line x1="386.5" y1="536.3" x2="386.5" y2="609.8"/>
<rect x="385" y="577" width="3" height="3.5" fill="#000" stroke="none"/>
<rect x="385" y="603" width="3" height="3.5" fill="#000" stroke="none"/>
<text transform="translate(382,565.6) rotate(-90)" x="0" y="0" font-size="10" font-weight="bold" textLength="18.6" lengthAdjust="spacingAndGlyphs">Φ35</text>
<text style="stroke:none" transform="translate(376.8,546) rotate(-90)" x="0" y="0" font-size="7" font-weight="normal" textLength="8" lengthAdjust="spacingAndGlyphs">H7</text>
<line x1="267.5" y1="648.5" x2="322.2" y2="648.5"/>
<rect x="273" y="647" width="3.5" height="3" fill="#000" stroke="none"/>
<rect x="295" y="647" width="3.5" height="3" fill="#000" stroke="none"/>
<text x="306.4" y="643" font-size="10" font-weight="bold" textLength="11.0" lengthAdjust="spacingAndGlyphs">25</text>
<line x1="330.9" y1="648.5" x2="387" y2="648.5"/>
<rect x="338" y="647" width="3.5" height="3" fill="#000" stroke="none"/>
<rect x="360" y="647" width="3.5" height="3" fill="#000" stroke="none"/>
<text x="371.2" y="643" font-size="10" font-weight="bold" textLength="11.0" lengthAdjust="spacingAndGlyphs">37</text>
<line x1="291.5" y1="645" x2="291.5" y2="684"/>
<line x1="343.5" y1="645" x2="343.5" y2="684"/>
<line x1="357" y1="663" x2="357" y2="684" stroke-width="1.8"/>
<line x1="243" y1="665.5" x2="387" y2="665.5"/>
<line x1="243" y1="684.5" x2="387" y2="684.5"/>
<path d="M279.2,661.3 L261.5,661.3 Q259.4,663 259.4,666 L262.6,675.4 M261,687.8 L279.2,687.8" fill="none" stroke-width="1.3"/>
<line x1="279" y1="661.3" x2="279" y2="687.8" stroke-width="1.8"/>
<line x1="254.6" y1="674.5" x2="359.7" y2="674.5" stroke-dasharray="7 2 1.5 2"/>
<circle cx="262.6" cy="681.1" r="3" fill="none" stroke-width="1.2" stroke-dasharray="1.2 0.8"/>
<line x1="260" y1="679" x2="265" y2="683" stroke-width="0.8"/>
<line x1="260" y1="683" x2="265" y2="679" stroke-width="0.8"/>
<line x1="243.5" y1="655" x2="243.5" y2="729.4"/>
<rect x="242" y="659" width="3" height="3.5" fill="#000" stroke="none"/>
<rect x="242" y="687" width="3" height="3.5" fill="#000" stroke="none"/>
<text transform="translate(239,724.7) rotate(-90)" x="0" y="0" font-size="10" font-weight="bold" textLength="18.4" lengthAdjust="spacingAndGlyphs">Φ35</text>
<text style="stroke:none" transform="translate(241.8,705.5) rotate(-90)" x="0" y="0" font-size="7" font-weight="normal" textLength="7.5" lengthAdjust="spacingAndGlyphs">h8</text>
<line x1="386.5" y1="656" x2="386.5" y2="729.4"/>
<rect x="385" y="660" width="3" height="3.5" fill="#000" stroke="none"/>
<rect x="385" y="687" width="3" height="3.5" fill="#000" stroke="none"/>
<text transform="translate(381.7,725.2) rotate(-90)" x="0" y="0" font-size="10" font-weight="bold" textLength="20.0" lengthAdjust="spacingAndGlyphs">Φ35</text>
<text style="stroke:none" transform="translate(384.4,705.2) rotate(-90)" x="0" y="0" font-size="7" font-weight="normal" textLength="8.0" lengthAdjust="spacingAndGlyphs">h8</text>
<line x1="444" y1="544.5" x2="521.6" y2="544.5"/>
<rect x="446" y="543" width="3.5" height="3" fill="#000" stroke="none"/>
<rect x="517" y="543" width="3.5" height="3" fill="#000" stroke="none"/>
<text x="473" y="540.5" font-size="10" font-weight="bold" textLength="17.1" lengthAdjust="spacingAndGlyphs">150</text>
<line x1="444.5" y1="542" x2="444.5" y2="670.3"/>
<line x1="521.5" y1="542" x2="521.5" y2="577.6"/>
<line x1="440" y1="564.5" x2="476" y2="564.5"/>
<rect x="446" y="563" width="3.5" height="3" fill="#000" stroke="none"/>
<rect x="471" y="563" width="3.5" height="3" fill="#000" stroke="none"/>
<text x="454.3" y="558.9" font-size="10" font-weight="bold" textLength="9.7" lengthAdjust="spacingAndGlyphs">32</text>
<line x1="451.5" y1="561" x2="451.5" y2="625"/>
<line x1="469.5" y1="561" x2="469.5" y2="578"/>
<line x1="493" y1="564.5" x2="525" y2="564.5"/>
<rect x="493" y="563" width="3.5" height="3" fill="#000" stroke="none"/>
<rect x="517" y="563" width="3.5" height="3" fill="#000" stroke="none"/>
<text x="499.3" y="558.9" font-size="10" font-weight="bold" textLength="10.3" lengthAdjust="spacingAndGlyphs">32</text>
<line x1="497.5" y1="561" x2="497.5" y2="574.6"/>
<line x1="513.5" y1="561" x2="513.5" y2="625"/>
<clipPath id="h811"><rect x="444" y="577.9" width="77.6" height="3.4"/></clipPath><g clip-path="url(#h811)">
<line x1="440.6" y1="577.9" x2="444.0" y2="581.3"/>
<line x1="444.0" y1="577.9" x2="447.4" y2="581.3"/>
<line x1="447.4" y1="577.9" x2="450.8" y2="581.3"/>
<line x1="450.8" y1="577.9" x2="454.2" y2="581.3"/>
<line x1="454.2" y1="577.9" x2="457.6" y2="581.3"/>
<line x1="457.6" y1="577.9" x2="461.0" y2="581.3"/>
<line x1="461.0" y1="577.9" x2="464.4" y2="581.3"/>
<line x1="464.4" y1="577.9" x2="467.8" y2="581.3"/>
<line x1="467.8" y1="577.9" x2="471.2" y2="581.3"/>
<line x1="471.2" y1="577.9" x2="474.6" y2="581.3"/>
<line x1="474.6" y1="577.9" x2="478.0" y2="581.3"/>
<line x1="478.0" y1="577.9" x2="481.4" y2="581.3"/>
<line x1="481.4" y1="577.9" x2="484.8" y2="581.3"/>
<line x1="484.8" y1="577.9" x2="488.2" y2="581.3"/>
<line x1="488.2" y1="577.9" x2="491.6" y2="581.3"/>
<line x1="491.6" y1="577.9" x2="495.0" y2="581.3"/>
<line x1="495.0" y1="577.9" x2="498.4" y2="581.3"/>
<line x1="498.4" y1="577.9" x2="501.8" y2="581.3"/>
<line x1="501.8" y1="577.9" x2="505.2" y2="581.3"/>
<line x1="505.2" y1="577.9" x2="508.6" y2="581.3"/>
<line x1="508.6" y1="577.9" x2="512.0" y2="581.3"/>
<line x1="512.0" y1="577.9" x2="515.4" y2="581.3"/>
<line x1="515.4" y1="577.9" x2="518.8" y2="581.3"/>
<line x1="518.8" y1="577.9" x2="522.2" y2="581.3"/>
</g>
<clipPath id="h837"><rect x="444" y="599.8" width="77.6" height="3.3"/></clipPath><g clip-path="url(#h837)">
<line x1="440.7" y1="599.8" x2="444.0" y2="603.1"/>
<line x1="444.1" y1="599.8" x2="447.4" y2="603.1"/>
<line x1="447.5" y1="599.8" x2="450.8" y2="603.1"/>
<line x1="450.9" y1="599.8" x2="454.2" y2="603.1"/>
<line x1="454.3" y1="599.8" x2="457.6" y2="603.1"/>
<line x1="457.7" y1="599.8" x2="461.0" y2="603.1"/>
<line x1="461.1" y1="599.8" x2="464.4" y2="603.1"/>
<line x1="464.5" y1="599.8" x2="467.8" y2="603.1"/>
<line x1="467.9" y1="599.8" x2="471.2" y2="603.1"/>
<line x1="471.3" y1="599.8" x2="474.6" y2="603.1"/>
<line x1="474.7" y1="599.8" x2="478.0" y2="603.1"/>
<line x1="478.1" y1="599.8" x2="481.4" y2="603.1"/>
<line x1="481.5" y1="599.8" x2="484.8" y2="603.1"/>
<line x1="484.9" y1="599.8" x2="488.2" y2="603.1"/>
<line x1="488.3" y1="599.8" x2="491.6" y2="603.1"/>
<line x1="491.7" y1="599.8" x2="495.0" y2="603.1"/>
<line x1="495.1" y1="599.8" x2="498.4" y2="603.1"/>
<line x1="498.5" y1="599.8" x2="501.8" y2="603.1"/>
<line x1="501.9" y1="599.8" x2="505.2" y2="603.1"/>
<line x1="505.3" y1="599.8" x2="508.6" y2="603.1"/>
<line x1="508.7" y1="599.8" x2="512.0" y2="603.1"/>
<line x1="512.1" y1="599.8" x2="515.4" y2="603.1"/>
<line x1="515.5" y1="599.8" x2="518.8" y2="603.1"/>
<line x1="518.9" y1="599.8" x2="522.2" y2="603.1"/>
</g>
<clipPath id="h863"><rect x="462" y="576.2" width="40.4" height="1.7"/></clipPath><g clip-path="url(#h863)">
<line x1="460.3" y1="576.2" x2="462.0" y2="577.9"/>
<line x1="463.7" y1="576.2" x2="465.4" y2="577.9"/>
<line x1="467.1" y1="576.2" x2="468.8" y2="577.9"/>
<line x1="470.5" y1="576.2" x2="472.2" y2="577.9"/>
<line x1="473.9" y1="576.2" x2="475.6" y2="577.9"/>
<line x1="477.3" y1="576.2" x2="479.0" y2="577.9"/>
<line x1="480.7" y1="576.2" x2="482.4" y2="577.9"/>
<line x1="484.1" y1="576.2" x2="485.8" y2="577.9"/>
<line x1="487.5" y1="576.2" x2="489.2" y2="577.9"/>
<line x1="490.9" y1="576.2" x2="492.6" y2="577.9"/>
<line x1="494.3" y1="576.2" x2="496.0" y2="577.9"/>
<line x1="497.7" y1="576.2" x2="499.4" y2="577.9"/>
<line x1="501.1" y1="576.2" x2="502.8" y2="577.9"/>
</g>
<clipPath id="h878"><rect x="484.4" y="574.6" width="18.0" height="1.6"/></clipPath><g clip-path="url(#h878)">
<line x1="482.8" y1="574.6" x2="484.4" y2="576.2"/>
<line x1="486.2" y1="574.6" x2="487.8" y2="576.2"/>
<line x1="489.6" y1="574.6" x2="491.2" y2="576.2"/>
<line x1="493.0" y1="574.6" x2="494.6" y2="576.2"/>
<line x1="496.4" y1="574.6" x2="498.0" y2="576.2"/>
<line x1="499.8" y1="574.6" x2="501.4" y2="576.2"/>
</g>
<clipPath id="h886"><rect x="462" y="603.1" width="40.4" height="2.3"/></clipPath><g clip-path="url(#h886)">
<line x1="459.7" y1="603.1" x2="462.0" y2="605.4"/>
<line x1="463.1" y1="603.1" x2="465.4" y2="605.4"/>
<line x1="466.5" y1="603.1" x2="468.8" y2="605.4"/>
<line x1="469.9" y1="603.1" x2="472.2" y2="605.4"/>
<line x1="473.3" y1="603.1" x2="475.6" y2="605.4"/>
<line x1="476.7" y1="603.1" x2="479.0" y2="605.4"/>
<line x1="480.1" y1="603.1" x2="482.4" y2="605.4"/>
<line x1="483.5" y1="603.1" x2="485.8" y2="605.4"/>
<line x1="486.9" y1="603.1" x2="489.2" y2="605.4"/>
<line x1="490.3" y1="603.1" x2="492.6" y2="605.4"/>
<line x1="493.7" y1="603.1" x2="496.0" y2="605.4"/>
<line x1="497.1" y1="603.1" x2="499.4" y2="605.4"/>
<line x1="500.5" y1="603.1" x2="502.8" y2="605.4"/>
</g>
<clipPath id="h901"><rect x="484.4" y="605.4" width="18.0" height="1.2"/></clipPath><g clip-path="url(#h901)">
<line x1="483.2" y1="605.4" x2="484.4" y2="606.6"/>
<line x1="486.6" y1="605.4" x2="487.8" y2="606.6"/>
<line x1="490.0" y1="605.4" x2="491.2" y2="606.6"/>
<line x1="493.4" y1="605.4" x2="494.6" y2="606.6"/>
<line x1="496.8" y1="605.4" x2="498.0" y2="606.6"/>
<line x1="500.2" y1="605.4" x2="501.4" y2="606.6"/>
</g>
<path d="M444,577.9 L462,577.9 L462,576.2 L484.4,576.2 L484.4,574.6 L502.4,574.6 L502.4,576.6 L521.6,576.6 L521.6,603.1 L502.4,603.1 L502.4,606.6 L484.4,606.6 L484.4,605.4 L462,605.4 L462,603.1 L444,603.1 Z" fill="none" stroke-width="1.4"/>
<line x1="444" y1="581.5" x2="521.6" y2="581.5" stroke-width="1.4"/>
<line x1="444" y1="599.5" x2="521.6" y2="599.5" stroke-width="1.4"/>
<line x1="444.5" y1="577.9" x2="444.5" y2="603.1"/>
<line x1="447.5" y1="581.3" x2="447.5" y2="599.8"/>
<line x1="451.5" y1="581.3" x2="451.5" y2="599.8"/>
<line x1="522" y1="576.6" x2="522" y2="603.1" stroke-width="2"/>
<rect x="495.6" y="587.8" width="14.0" height="5.6" fill="none" stroke-width="1.5"/>
<rect x="504.4" y="582.6" width="7.6" height="15.2" fill="none"/>
<path d="M505,583.5 l3,3 m0,-3 l-3,3 M508,583.5 l3,3 m0,-3 l-3,3 M505,593.5 l3,3 m0,-3 l-3,3 M508,593.5 l3,3 m0,-3 l-3,3" fill="none" stroke-width="0.8"/>
<rect x="513.5" y="581.8" width="3.0" height="2.4" fill="none" stroke-width="0.9"/>
<rect x="513.5" y="585.3" width="3.0" height="2.4" fill="none" stroke-width="0.9"/>
<rect x="513.5" y="588.8" width="3.0" height="2.4" fill="none" stroke-width="0.9"/>
<rect x="513.5" y="592.3" width="3.0" height="2.4" fill="none" stroke-width="0.9"/>
<rect x="513.5" y="595.8" width="3.0" height="2.4" fill="none" stroke-width="0.9"/>
<line x1="518.5" y1="582" x2="518.5" y2="598" stroke-width="1.2"/>
<line x1="439.7" y1="589.5" x2="522.9" y2="589.5" stroke-dasharray="7 2 1.5 2"/>
<line x1="425.5" y1="581.4" x2="425.5" y2="599.4"/>
<rect x="424" y="583" width="3" height="3.5" fill="#000" stroke="none"/>
<rect x="424" y="595" width="3" height="3.5" fill="#000" stroke="none"/>
<line x1="423" y1="581.5" x2="444" y2="581.5"/>
<line x1="423" y1="599.5" x2="444" y2="599.5"/>
<text transform="translate(420.6,605.5) rotate(-90)" x="0" y="0" font-size="10" font-weight="bold" textLength="21.1" lengthAdjust="spacingAndGlyphs">Φ37</text>
<text style="stroke:none" transform="translate(415.4,581.6) rotate(-90)" x="0" y="0" font-size="7" font-weight="normal" textLength="8.8" lengthAdjust="spacingAndGlyphs">0.1</text>
<line x1="433.3" y1="621.5" x2="457.6" y2="621.5"/>
<rect x="439" y="620" width="3.5" height="3" fill="#000" stroke="none"/>
<rect x="453" y="620" width="3.5" height="3" fill="#000" stroke="none"/>
<text x="465.3" y="617.3" font-size="10" font-weight="bold" textLength="11.0" lengthAdjust="spacingAndGlyphs">18</text>
<line x1="504" y1="622.5" x2="543" y2="622.5"/>
<rect x="508" y="621" width="3.5" height="3" fill="#000" stroke="none"/>
<rect x="523" y="621" width="3.5" height="3" fill="#000" stroke="none"/>
<line x1="521.5" y1="603.2" x2="521.5" y2="625"/>
<text x="535" y="617" font-size="10" font-weight="bold" textLength="11" lengthAdjust="spacingAndGlyphs">18</text>
<polygon points="538,551 583,551 577,573 529,573" fill="none"/>
<text x="538.6" y="559" font-size="8.5" font-weight="normal" textLength="42.4" lengthAdjust="spacingAndGlyphs" style="stroke:none">GB5781-86</text>
<text x="533" y="568" font-size="8.5" font-weight="normal" textLength="41" lengthAdjust="spacingAndGlyphs" style="stroke:none">M10x30-8.8</text>
<line x1="533" y1="561" x2="519" y2="575"/>
<line x1="595.5" y1="588" x2="595.5" y2="695.4"/>
<rect x="594" y="667" width="3" height="3.5" fill="#000" stroke="none"/>
<rect x="594" y="693" width="3" height="3.5" fill="#000" stroke="none"/>
<line x1="543.2" y1="672.5" x2="596.5" y2="672.5"/>
<line x1="543.2" y1="690.5" x2="596.5" y2="690.5"/>
<text transform="translate(591.6,657.8) rotate(-90)" x="0" y="0" font-size="10.5" font-weight="bold" textLength="57.4" lengthAdjust="spacingAndGlyphs">Me=Φ38.92</text>
<text style="stroke:none" transform="translate(592.2,600) rotate(-90)" x="0" y="0" font-size="6" font-weight="normal" textLength="10.5" lengthAdjust="spacingAndGlyphs">-0.08</text>
<circle cx="543.2" cy="681.2" r="8.6" fill="none" stroke-width="1.5" stroke-dasharray="2.4 1.8"/>
<line x1="534.5" y1="681.5" x2="552" y2="681.5" stroke-width="1.1" stroke-dasharray="4 2.5"/>
<line x1="543.5" y1="670" x2="543.5" y2="690" stroke-width="1.1" stroke-dasharray="4 2.5"/>
<line x1="542.5" y1="690" x2="542.5" y2="713.8"/>
<line x1="544.5" y1="690" x2="544.5" y2="713.8"/>
<line x1="531.2" y1="713.5" x2="596.5" y2="713.5"/>
<rect x="536" y="712" width="3.5" height="3" fill="#000" stroke="none"/>
<rect x="547" y="712" width="3.5" height="3" fill="#000" stroke="none"/>
<text x="557.8" y="708.3" font-size="10.5" font-weight="bold" textLength="7.4" lengthAdjust="spacingAndGlyphs">D</text>
<text x="566.1" y="708.3" font-size="7.5" font-weight="normal" textLength="5.5" lengthAdjust="spacingAndGlyphs" style="stroke:none">m</text>
<text x="572.6" y="708.3" font-size="10.5" font-weight="bold" textLength="20.2" lengthAdjust="spacingAndGlyphs">=Φ4</text>
<rect x="515.5" y="628.3" width="60.7" height="18.4" fill="none" rx="9.2"/>
<text x="520" y="635.6" font-size="8.5" font-weight="normal" textLength="52.6" lengthAdjust="spacingAndGlyphs" style="stroke:none">GB3478.1-83</text>
<text x="524" y="642.5" font-size="4.5" font-weight="normal" textLength="42" lengthAdjust="spacingAndGlyphs" style="stroke:none">M10x30 8.8 GB</text>
<line x1="507.5" y1="635.5" x2="515.5" y2="635.5"/>
<line x1="507.5" y1="635.8" x2="494" y2="678"/>
<line x1="443.8" y1="654.5" x2="504.6" y2="654.5"/>
<rect x="447" y="653" width="3.5" height="3" fill="#000" stroke="none"/>
<rect x="499" y="653" width="3.5" height="3" fill="#000" stroke="none"/>
<text x="465.3" y="649.2" font-size="10" font-weight="bold" textLength="15.3" lengthAdjust="spacingAndGlyphs">115</text>
<line x1="504.5" y1="651" x2="504.5" y2="688.6"/>
<rect x="418.4" y="669.4" width="23.2" height="24.0" fill="none" stroke-width="1.3"/>
<line x1="441" y1="669.4" x2="441" y2="693.4" stroke-width="1.6"/>
<line x1="444" y1="669.4" x2="444" y2="693.4" stroke-width="1.6"/>
<line x1="443.6" y1="672.5" x2="504.6" y2="672.5"/>
<line x1="443.6" y1="674.5" x2="504.6" y2="674.5"/>
<line x1="443.6" y1="687.5" x2="504.6" y2="687.5"/>
<line x1="443.6" y1="690.5" x2="504.6" y2="690.5"/>
<line x1="444" y1="681.5" x2="505.6" y2="681.5" stroke-dasharray="7 2 1.5 2"/>
<line x1="427.2" y1="681.5" x2="437.6" y2="681.5"/>
<path d="M440,672.6 L432.5,672.6 Q430.4,673.5 430.4,676.5 L430.4,686 Q430.4,690 433,690 L440,690" fill="none" stroke-width="1.1"/>
<path d="M432,684 q2.5,-1.5 3,1 q-2,1.5 -3,3.5 q2.5,0 3,-1" fill="none" stroke-width="0.9"/>
<line x1="418" y1="672.5" x2="418" y2="674.5" stroke-width="2"/>
<line x1="418" y1="687" x2="418" y2="689" stroke-width="2"/>
<text transform="translate(415,697.4) rotate(-90)" x="0" y="0" font-size="10" font-weight="bold" textLength="20.0" lengthAdjust="spacingAndGlyphs">Φ42</text>
<text style="stroke:none" transform="translate(414.8,677) rotate(-90)" x="0" y="0" font-size="8" font-weight="normal" textLength="13.2" lengthAdjust="spacingAndGlyphs">min</text>
<rect x="445.1" y="700" width="59.5" height="26" fill="none" rx="13"/>
<text x="453.8" y="712.6" font-size="9" font-weight="normal" textLength="42.2" lengthAdjust="spacingAndGlyphs" style="stroke:none">GB145-85</text>
<text x="463.4" y="721.2" font-size="9" font-weight="normal" textLength="24.9" lengthAdjust="spacingAndGlyphs" style="stroke:none">CM10</text>
<polyline points="504.6,713.5 513.3,713.5 513.3,685.7 505.6,680.9" fill="none"/>
</g></svg></body></html>
